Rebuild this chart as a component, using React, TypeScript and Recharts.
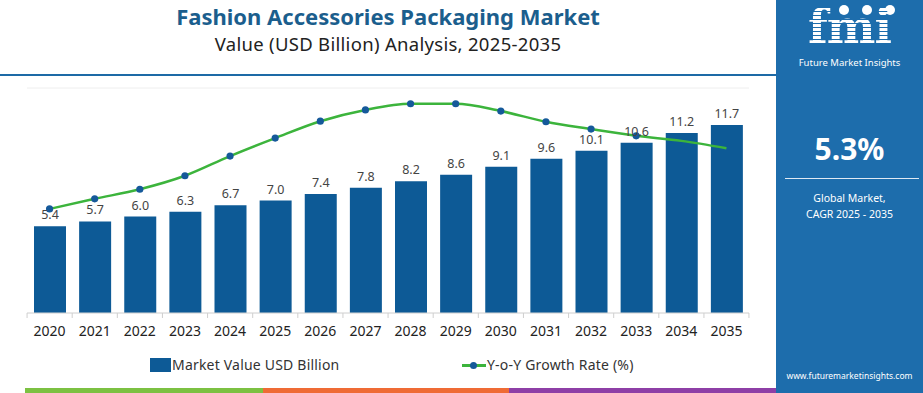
import React from "react";
import {
  Bar,
  CartesianGrid,
  ComposedChart,
  LabelList,
  Line,
  XAxis,
  YAxis,
} from "recharts";

const years = [
  "2020", "2021", "2022", "2023", "2024", "2025", "2026", "2027",
  "2028", "2029", "2030", "2031", "2032", "2033", "2034", "2035",
];
const marketValue = [5.4, 5.7, 6.0, 6.3, 6.7, 7.0, 7.4, 7.8, 8.2, 8.6, 9.1, 9.6, 10.1, 10.6, 11.2, 11.7];
const growthRate = [3.85, 4.03, 4.2, 4.44, 4.79, 5.11, 5.41, 5.61, 5.72, 5.72, 5.59, 5.4, 5.27, 5.15, 5.06, 4.93];
const valueTicks = [0, 2, 4, 6, 8, 10, 12, 14];

const BAR_BLUE = "#0d5a96";
const PANEL_BLUE = "#1d6dac";
const LINE_GREEN = "#3cb43c";
const FONT = "'Noto Sans', 'Open Sans', sans-serif";

const data = years.map((year, i) => ({
  year,
  value: marketValue[i],
  growth: growthRate[i],
}));

// category width is ~45px, boundary tick marks sit half a step left of each label
const YearTick = (props: any) => {
  const { x, y, payload, index } = props;
  const half = 22.5;
  return (
    <g>
      <line x1={x - half} x2={x - half} y1={y - 8} y2={y - 3} stroke="#cfcfcf" />
      {index === years.length - 1 && (
        <line x1={x + half} x2={x + half} y1={y - 8} y2={y - 3} stroke="#cfcfcf" />
      )}
      <text x={x} y={y} dy={15} textAnchor="middle" fill="#222" fontSize={14} fontFamily={FONT}>
        {payload.value}
      </text>
    </g>
  );
};

const GrowthDot = (props: any) => {
  const { cx, cy, index } = props;
  if (index >= 14) return <g key={index} />;
  return <circle key={index} cx={cx} cy={cy} r={3.6} fill="#15599a" />;
};

function SidePanel() {
  return (
    <div
      style={{
        position: "absolute",
        left: 776,
        top: 0,
        width: 147,
        height: 393,
        background: PANEL_BLUE,
        color: "#fff",
        fontFamily: FONT,
        textAlign: "center",
      }}
    >
      <div style={{ position: "absolute", top: 5, left: 63, width: 10, height: 10, borderRadius: 5, background: "#fff" }} />
      <div style={{ position: "absolute", top: 5, left: 86, width: 10, height: 10, borderRadius: 5, background: "#fff" }} />
      <div style={{ position: "absolute", top: 5, left: 109, width: 10, height: 10, borderRadius: 5, background: "#fff" }} />
      <div
        style={{
          position: "absolute",
          top: 4,
          left: 0,
          width: 147,
          fontSize: 46,
          fontWeight: 700,
          letterSpacing: -1,
          lineHeight: "46px",
          fontFamily: "'DejaVu Serif', serif",
          backgroundImage:
            "repeating-linear-gradient(180deg, #ffffff 0px, #ffffff 3px, " + PANEL_BLUE + " 3px, " + PANEL_BLUE + " 4px)",
          WebkitBackgroundClip: "text",
          backgroundClip: "text",
          WebkitTextFillColor: "transparent",
        }}
      >
        fmi
      </div>
      <div style={{ position: "absolute", top: 56, width: 147, fontSize: 9.5 }}>Future Market Insights</div>
      <div style={{ position: "absolute", top: 128, width: 147, fontSize: 30, fontWeight: 700 }}>5.3%</div>
      <div style={{ position: "absolute", top: 178, left: 9, width: 134, height: 1, background: "#dfe9f3" }} />
      <div style={{ position: "absolute", top: 190, width: 147, fontSize: 10.5, lineHeight: "16px" }}>
        Global Market,
        <br />
        CAGR 2025 - 2035
      </div>
      <div style={{ position: "absolute", top: 370, width: 147, fontSize: 8.5 }}>www.futuremarketinsights.com</div>
    </div>
  );
}

export default function App() {
  return (
    <div
      style={{
        position: "absolute",
        left: 0,
        top: 0,
        width: 923,
        height: 393,
        background: "#fff",
        overflow: "hidden",
        fontFamily: FONT,
      }}
    >
      <div
        style={{
          position: "absolute",
          top: 1,
          left: 0,
          width: 776,
          textAlign: "center",
          color: "#1b5e8d",
          fontSize: 22,
          fontWeight: 700,
        }}
      >
        Fashion Accessories Packaging Market
      </div>
      <div
        style={{
          position: "absolute",
          top: 31,
          left: 0,
          width: 776,
          textAlign: "center",
          color: "#222",
          fontSize: 18.5,
          letterSpacing: 0.3,
        }}
      >
        Value (USD Billion) Analysis, 2025-2035
      </div>
      <div style={{ position: "absolute", top: 74, left: 0, width: 776, height: 2, background: "#1d6aa6" }} />

      <div style={{ position: "absolute", left: 0, top: 0 }}>
        <ComposedChart
          width={776}
          height={393}
          data={data}
          margin={{ top: 88, right: 27, left: 27, bottom: 50 }}
        >
          <CartesianGrid horizontal vertical={false} stroke="#eeeeee" />
          <XAxis
            dataKey="year"
            axisLine={{ stroke: "#d6d6d6" }}
            tickLine={false}
            height={30}
            interval={0}
            tick={<YearTick />}
          />
          <YAxis yAxisId="left" hide domain={[0, 14]} ticks={valueTicks} />
          <YAxis yAxisId="right" orientation="right" hide domain={[2, 6]} />
          <Bar yAxisId="left" dataKey="value" fill={BAR_BLUE} barSize={32} isAnimationActive={false}>
            <LabelList dataKey="value" position="top" offset={7} fill="#444" fontSize={12.5} fontFamily={FONT} formatter={(v: any) => Number(v).toFixed(1)} />
          </Bar>
          <Line
            yAxisId="right"
            type="monotone"
            dataKey="growth"
            stroke={LINE_GREEN}
            strokeWidth={2.5}
            dot={<GrowthDot />}
            activeDot={false}
            isAnimationActive={false}
          />
        </ComposedChart>
      </div>

      <div
        style={{
          position: "absolute",
          top: 355,
          left: 150,
          display: "flex",
          alignItems: "center",
          fontSize: 14,
          letterSpacing: 0.2,
          color: "#333",
        }}
      >
        <span style={{ width: 21, height: 14, background: BAR_BLUE, display: "inline-block" }} />
        <span style={{ marginLeft: 1 }}>Market Value USD Billion</span>
      </div>
      <div
        style={{
          position: "absolute",
          top: 355,
          left: 462,
          display: "flex",
          alignItems: "center",
          fontSize: 14,
          letterSpacing: 0.2,
          color: "#333",
        }}
      >
        <span style={{ position: "relative", width: 24, height: 14, display: "inline-block" }}>
          <span style={{ position: "absolute", top: 6, left: 0, width: 24, height: 3, background: LINE_GREEN }} />
          <span style={{ position: "absolute", top: 4, left: 8, width: 7, height: 7, borderRadius: 4, background: "#15599a" }} />
        </span>
        <span style={{ marginLeft: 1 }}>Y-o-Y Growth Rate (%)</span>
      </div>

      <div style={{ position: "absolute", top: 388, left: 25, width: 238, height: 5, background: "#7cc142" }} />
      <div style={{ position: "absolute", top: 388, left: 263, width: 246, height: 5, background: "#ef6b35" }} />
      <div style={{ position: "absolute", top: 388, left: 509, width: 267, height: 5, background: "#8e3fa6" }} />

      <SidePanel />
    </div>
  );
}
